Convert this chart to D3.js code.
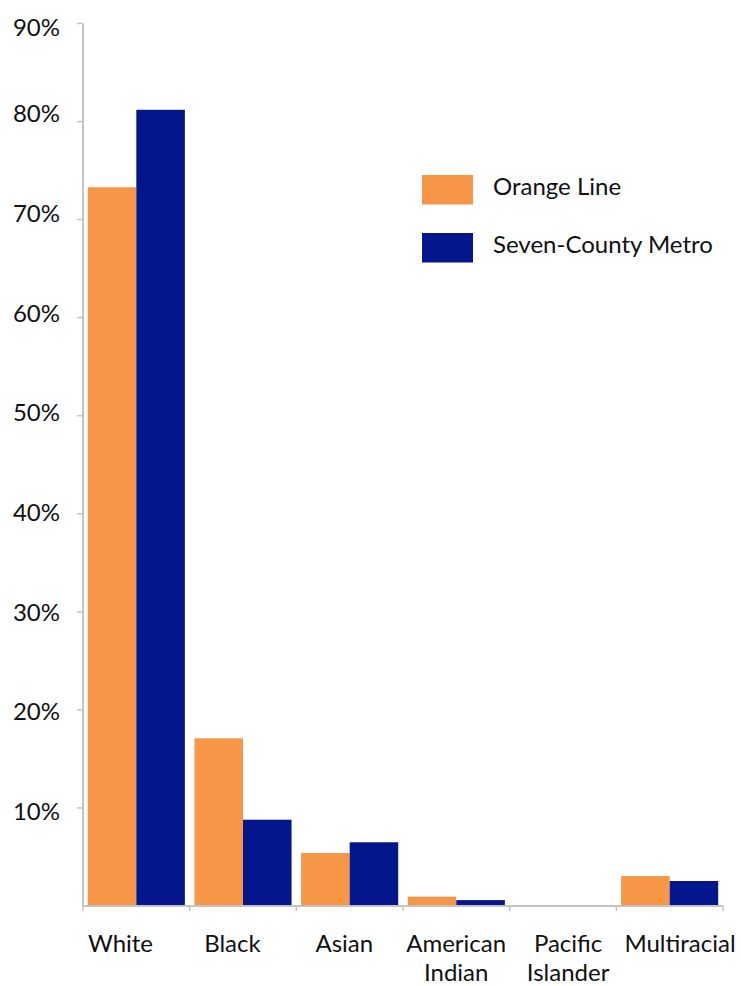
<!DOCTYPE html>
<html>
<head>
<meta charset="utf-8">
<script src="https://cdn.jsdelivr.net/npm/d3@7"></script>
<style>
  html, body { margin: 0; padding: 0; background: #fff; }
  svg { display: block; }
  text { font-family: Lato, "Open Sans", "DejaVu Sans", sans-serif; fill: #111; }
</style>
</head>
<body>
<svg id="chart" width="741" height="986"></svg>
<script>
// ---- data ----
const categories = ["White", "Black", "Asian", "American Indian", "Pacific Islander", "Multiracial"];
const seriesNames = ["Orange Line", "Seven-County Metro"];
const orangeLine = [73.3, 17.1, 5.4, 0.95, 0, 3.05];
const sevenCounty = [81.2, 8.8, 6.5, 0.6, 0, 2.55];
const tickValues = [10, 20, 30, 40, 50, 60, 70, 80, 90];
const tickLabels = ["10%", "20%", "30%", "40%", "50%", "60%", "70%", "80%", "90%"];
const seriesColors = ["#F79646", "#03168B"];

// ---- layout ----
const svg = d3.select("#chart");
const axisColor = "#c4c4c4";
const fontSize = 24;

const x = d3.scaleBand().domain(categories).range([83, 723]).paddingInner(0.09).paddingOuter(0.045);
const xs = d3.scaleBand().domain(seriesNames).range([0, x.bandwidth()]);
const y = d3.scaleLinear().domain([0, 90]).range([906, 23.5]);

// label placement scales (labels in the reference sit on their own spacing)
const xLabel = d3.scalePoint().domain(categories).range([120.5, 680]);
const yLabel = d3.scaleLinear().domain([10, 80, 90]).range([811.5, 114, 27.5]);

const series = [orangeLine, sevenCounty];

// y axis line
svg.append("line")
  .attr("x1", 83).attr("x2", 83)
  .attr("y1", y(90)).attr("y2", y(0))
  .attr("stroke", axisColor).attr("stroke-width", 2);

// y ticks
svg.selectAll("line.ytick").data(tickValues).enter().append("line")
  .attr("class", "ytick")
  .attr("x1", 77).attr("x2", 83)
  .attr("y1", d => y(d)).attr("y2", d => y(d))
  .attr("stroke", axisColor).attr("stroke-width", 1.5);

// y tick labels
svg.selectAll("text.ylab").data(tickValues).enter().append("text")
  .attr("class", "ylab")
  .attr("x", 60)
  .attr("y", d => yLabel(d))
  .attr("dy", "0.35em")
  .attr("text-anchor", "end")
  .attr("font-size", fontSize)
  .text((d, i) => tickLabels[i]);

// bars
categories.forEach((c, ci) => {
  seriesNames.forEach((s, si) => {
    const v = series[si][ci];
    if (v <= 0) return;
    svg.append("rect")
      .attr("x", x(c) + xs(s))
      .attr("y", y(v))
      .attr("width", xs.bandwidth())
      .attr("height", y(0) - y(v))
      .attr("fill", seriesColors[si]);
  });
});

// x axis baseline
svg.append("line")
  .attr("x1", 83).attr("x2", 723)
  .attr("y1", y(0)).attr("y2", y(0))
  .attr("stroke", axisColor).attr("stroke-width", 2);

// x ticks at band boundaries
const boundaries = categories.map(c => x(c) - x.step() * x.paddingInner() / 2).concat([723]);
boundaries[0] = 83;
svg.selectAll("line.xtick").data(boundaries).enter().append("line")
  .attr("class", "xtick")
  .attr("x1", d => d).attr("x2", d => d)
  .attr("y1", y(0)).attr("y2", y(0) + 5)
  .attr("stroke", axisColor).attr("stroke-width", 1.5);

// x labels (wrapped)
categories.forEach(c => {
  const words = c.split(" ");
  const t = svg.append("text")
    .attr("x", xLabel(c))
    .attr("y", 952)
    .attr("text-anchor", "middle")
    .attr("font-size", fontSize);
  words.forEach((w, i) => {
    t.append("tspan").attr("x", xLabel(c)).attr("dy", i === 0 ? 0 : 29).text(w);
  });
});

// legend
const legendY = [175, 233];
seriesNames.forEach((s, i) => {
  svg.append("rect")
    .attr("x", 422).attr("y", legendY[i])
    .attr("width", 51).attr("height", 29.5)
    .attr("fill", seriesColors[i]);
  svg.append("text")
    .attr("x", 493).attr("y", legendY[i] + 20)
    .attr("font-size", fontSize)
    .text(s);
});
</script>
</body>
</html>
